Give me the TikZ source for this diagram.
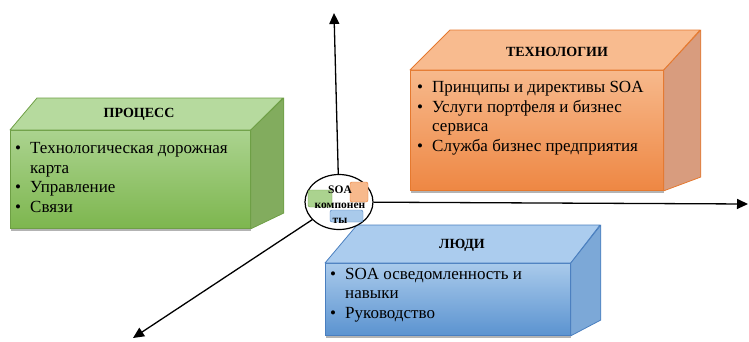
\documentclass[tikz,border=0pt]{standalone}
\usepackage{fontspec}
\setmainfont{Liberation Serif}
\usetikzlibrary{calc,arrows.meta,shapes.geometric,shadows}
\definecolor{grLine}{HTML}{6E9F45}
\definecolor{grTop}{HTML}{B6DA9E}
\definecolor{grFrontA}{HTML}{ABD38F}
\definecolor{grFrontB}{HTML}{7DB64E}
\definecolor{grSide}{HTML}{82AC5E}
\definecolor{orLine}{HTML}{E5792F}
\definecolor{orTop}{HTML}{F8BB8F}
\definecolor{orFrontA}{HTML}{F7B98C}
\definecolor{orFrontB}{HTML}{EE8743}
\definecolor{orSide}{HTML}{D89C7E}
\definecolor{blLine}{HTML}{4A7FBF}
\definecolor{blTop}{HTML}{ABCCEE}
\definecolor{blFrontA}{HTML}{A9CAEB}
\definecolor{blFrontB}{HTML}{5B93D0}
\definecolor{blSide}{HTML}{7CA8D7}
\def\bul{\makebox[15pt][l]{\textbullet}}
\def\ind{\hspace*{15pt}}

\begin{document}
\begin{tikzpicture}[x=1pt,y=-1pt,
    face/.style={draw=#1, line width=0.8pt, line join=round},
    frontface/.style={rectangle, draw=#1, line width=0.8pt, inner sep=0pt, anchor=north west,
      drop shadow={shadow xshift=1pt,shadow yshift=-2.5pt,opacity=0.6}},
    title/.style={font=\fontsize{14}{16}\selectfont\bfseries},
    items/.style={anchor=base west, align=left, inner sep=0pt, font=\fontsize{17}{19.5}\selectfont},
    axis/.style={line width=1.3pt, -{Triangle[length=11pt,width=10pt]}}]
		%%%%% START %%%%%
		
		\useasboundingbox (0,0) rectangle (749,341);
		
		% process
		\node[frontface=grLine, top color=grFrontA, bottom color=grFrontB, minimum width=240pt, minimum height=98pt] (proc) at (10,130) {};
		\draw[face=grLine, fill=grTop] (proc.north west) -- ++(27,-32) -- ++(246,0) -- (proc.north east) -- cycle;
		\draw[face=grLine, fill=grSide] (proc.north east) -- ++(33,-32) -- ++(0,115) -- (proc.south east) -- cycle;
		\node[title] (procT) at (139,114) {ПРОЦЕСС};
		\node[items] (procL) at (15,212) {\bul Технологическая дорожная\\ \ind карта\\ \bul Управление\\ \bul Связи};
		
		% technologies
		\node[frontface=orLine, top color=orFrontA, bottom color=orFrontB, minimum width=253pt, minimum height=120pt] (tech) at (410,70) {};
		\draw[face=orLine, fill=orTop] (tech.north west) -- ++(40,-40) -- ++(250,0) -- (tech.north east) -- cycle;
		\draw[face=orLine, fill=orSide] (tech.north east) -- ++(37,-40) -- ++(0,147) -- (tech.south east) -- cycle;
		\node[title] (techT) at (557,52) {ТЕХНОЛОГИИ};
		\node[items] (techL) at (417,151) {\bul Принципы и директивы SOA\\ \bul Услуги портфеля и бизнес\\ \ind сервиса\\ \bul Служба бизнес предприятия};
		
		% people
		\node[frontface=blLine, top color=blFrontA, bottom color=blFrontB, minimum width=245pt, minimum height=72pt] (ppl) at (325,263) {};
		\draw[face=blLine, fill=blTop] (ppl.north west) -- ++(32,-38) -- ++(243,0) -- (ppl.north east) -- cycle;
		\draw[face=blLine, fill=blSide] (ppl.north east) -- ++(30,-38) -- ++(0,95) -- (ppl.south east) -- cycle;
		\node[title] (pplT) at (462,245) {ЛЮДИ};
		\node[items] (pplL) at (330,318) {\bul SOA осведомленность и\\ \ind навыки\\ \bul Руководство};
		
		% centre and axes
		\node[ellipse, draw, line width=1.2pt, fill=white, minimum width=68pt, minimum height=55pt] (soa) at (339,202) {};
		\coordinate (up) at (334,13);
		\coordinate (east) at (748,204);
		\coordinate (sw) at (133,338);
		\draw[axis] (soa) -- (up);
		\draw[axis] (soa) -- (east);
		\draw[axis] (soa) -- (sw);
		
		\draw[grLine, fill=grFrontA, rounded corners=2pt] (308,190) rectangle (332,207);
		\draw[orLine, fill=orFrontA, rounded corners=2pt] (350,182) rectangle (368,202);
		\draw[blLine, fill=blFrontA, rounded corners=2pt] (330,210) rectangle (363,222);
		\node[font=\fontsize{11.5}{15}\selectfont\bfseries, align=center] (soaT) at (340,205) {SOA\\компонен\\ты};
		
		%%%%% END %%%%%
\end{tikzpicture}
\end{document}
